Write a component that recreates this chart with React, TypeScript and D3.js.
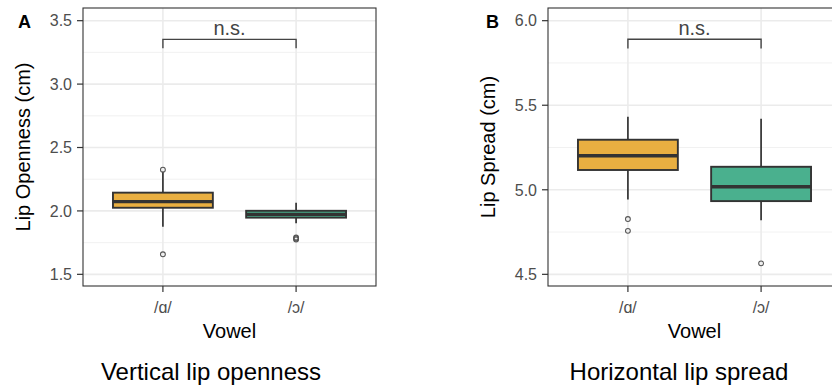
import React from "react";
import * as d3 from "d3";

const categories = ["/ɑ/", "/ɔ/"];

// Panel A: vertical lip openness (cm)
const openLow = [1.875, 1.902];
const openQ1 = [2.025, 1.947];
const openMedian = [2.073, 1.973];
const openQ3 = [2.144, 2.001];
const openHigh = [2.309, 2.065];
const openOutliers = [[2.325, 1.658], [1.775, 1.783, 1.79]];
const openTicks = [1.5, 2.0, 2.5, 3.0, 3.5];
const openMinor = [1.75, 2.25, 2.75, 3.25];
const openDomain = [1.408, 3.6];
const openBracket = [3.353, 3.282];

// Panel B: horizontal lip spread (cm)
const spreadLow = [4.943, 4.82];
const spreadQ1 = [5.117, 4.933];
const spreadMedian = [5.201, 5.018];
const spreadQ3 = [5.296, 5.136];
const spreadHigh = [5.432, 5.42];
const spreadOutliers = [[4.827, 4.757], [4.565]];
const spreadTicks = [4.5, 5.0, 5.5, 6.0];
const spreadMinor = [4.75, 5.25, 5.75];
const spreadDomain = [4.431, 6.075];
const spreadBracket = [5.89, 5.836];

const fills = ["#E9AF41", "#4AB08E"];
const FONT = "'Liberation Sans', Arial, Helvetica, sans-serif";

type PanelProps = {
  left: number;
  right: number;
  top: number;
  bottom: number;
  domain: number[];
  ticks: number[];
  minor: number[];
  low: number[];
  q1: number[];
  med: number[];
  q3: number[];
  high: number[];
  outliers: number[][];
  bracket: number[];
  yTitle: string;
  letter: string;
  letterX: number;
  title: string;
  titleX: number;
};

function Panel(p: PanelProps) {
  const x = d3.scalePoint<string>().domain(categories).range([p.left, p.right]).padding(0.6);
  const y = d3.scaleLinear().domain(p.domain).range([p.bottom, p.top]);
  const step = x.step();
  const bw = step * 0.75;
  const fmt = d3.format(".1f");
  const cx = (p.left + p.right) / 2;
  const cy = (p.top + p.bottom) / 2;
  const clipId = "clip" + p.letter;
  const x1 = x(categories[0])!;
  const x2 = x(categories[1])!;
  return (
    <g>
      <defs>
        <clipPath id={clipId}>
          <rect x={p.left} y={p.top} width={p.right - p.left} height={p.bottom - p.top} />
        </clipPath>
      </defs>
      <g clipPath={`url(#${clipId})`}>
        {p.minor.map((t) => (
          <line key={"mi" + t} x1={p.left} x2={p.right} y1={y(t)} y2={y(t)} stroke="#EDEDED" strokeWidth={0.8} />
        ))}
        {p.ticks.map((t) => (
          <line key={"ma" + t} x1={p.left} x2={p.right} y1={y(t)} y2={y(t)} stroke="#EBEBEB" strokeWidth={1.6} />
        ))}
        {categories.map((c) => (
          <line key={"v" + c} x1={x(c)} x2={x(c)} y1={p.top} y2={p.bottom} stroke="#EBEBEB" strokeWidth={1.6} />
        ))}
        {categories.map((c, i) => {
          const xc = x(c)!;
          return (
            <g key={"b" + c}>
              <line x1={xc} x2={xc} y1={y(p.high[i])} y2={y(p.q3[i])} stroke="#333" strokeWidth={1.7} />
              <line x1={xc} x2={xc} y1={y(p.q1[i])} y2={y(p.low[i])} stroke="#333" strokeWidth={1.7} />
              <rect
                x={xc - bw / 2}
                y={y(p.q3[i])}
                width={bw}
                height={y(p.q1[i]) - y(p.q3[i])}
                fill={fills[i]}
                stroke="#333"
                strokeWidth={1.9}
              />
              <line x1={xc - bw / 2} x2={xc + bw / 2} y1={y(p.med[i])} y2={y(p.med[i])} stroke="#333" strokeWidth={3.4} />
              {p.outliers[i].map((o, j) => (
                <circle key={j} cx={xc} cy={y(o)} r={2.4} fill="none" stroke="#555" strokeWidth={1.1} />
              ))}
            </g>
          );
        })}
      </g>
      {/* significance bracket */}
      <path
        d={`M${x1},${y(p.bracket[1])}V${y(p.bracket[0])}H${x2}V${y(p.bracket[1])}`}
        fill="none"
        stroke="#444"
        strokeWidth={1.4}
      />
      <text x={(x1 + x2) / 2} y={y(p.bracket[0]) - 4} textAnchor="middle" fontSize={20} fill="#444" fontFamily={FONT}>
        n.s.
      </text>
      <rect x={p.left} y={p.top} width={p.right - p.left} height={p.bottom - p.top} fill="none" stroke="#333" strokeWidth={1.1} />
      {/* y axis */}
      {p.ticks.map((t) => (
        <g key={"yt" + t}>
          <line x1={p.left - 6} x2={p.left} y1={y(t)} y2={y(t)} stroke="#333" strokeWidth={1.2} />
          <text x={p.left - 11} y={y(t)} dy="0.36em" textAnchor="end" fontSize={16} fill="#4D4D4D" fontFamily={FONT}>
            {fmt(t)}
          </text>
        </g>
      ))}
      {/* x axis */}
      {categories.map((c) => (
        <g key={"xt" + c}>
          <line x1={x(c)} x2={x(c)} y1={p.bottom} y2={p.bottom + 6} stroke="#333" strokeWidth={1.2} />
          <text x={x(c)} y={p.bottom + 27} textAnchor="middle" fontSize={16} fill="#4D4D4D" fontFamily={FONT}>
            {c}
          </text>
        </g>
      ))}
      <text x={cx} y={338} textAnchor="middle" fontSize={20} fill="#000" fontFamily={FONT}>
        Vowel
      </text>
      <text
        transform={`translate(${p.left - 53},${cy}) rotate(-90)`}
        textAnchor="middle"
        fontSize={20}
        fill="#000"
        fontFamily={FONT}
      >
        {p.yTitle}
      </text>
      <text x={p.letterX} y={27.5} fontSize={18} fontWeight="bold" fill="#000" fontFamily={FONT}>
        {p.letter}
      </text>
      <text x={p.titleX} y={380} textAnchor="middle" fontSize={24} fill="#000" fontFamily={FONT}>
        {p.title}
      </text>
    </g>
  );
}

export default function App() {
  return (
    <svg width={832} height={385} style={{ position: "absolute", left: 0, top: 0, background: "#fff" }}>
      <rect width={832} height={385} fill="#fff" />
      <Panel
        left={83}
        right={376}
        top={8}
        bottom={286}
        domain={openDomain}
        ticks={openTicks}
        minor={openMinor}
        low={openLow}
        q1={openQ1}
        med={openMedian}
        q3={openQ3}
        high={openHigh}
        outliers={openOutliers}
        bracket={openBracket}
        yTitle="Lip Openness (cm)"
        letter="A"
        letterX={18}
        title="Vertical lip openness"
        titleX={211}
      />
      <Panel
        left={548}
        right={841}
        top={8}
        bottom={286}
        domain={spreadDomain}
        ticks={spreadTicks}
        minor={spreadMinor}
        low={spreadLow}
        q1={spreadQ1}
        med={spreadMedian}
        q3={spreadQ3}
        high={spreadHigh}
        outliers={spreadOutliers}
        bracket={spreadBracket}
        yTitle="Lip Spread (cm)"
        letter="B"
        letterX={486}
        title="Horizontal lip spread"
        titleX={679}
      />
    </svg>
  );
}
